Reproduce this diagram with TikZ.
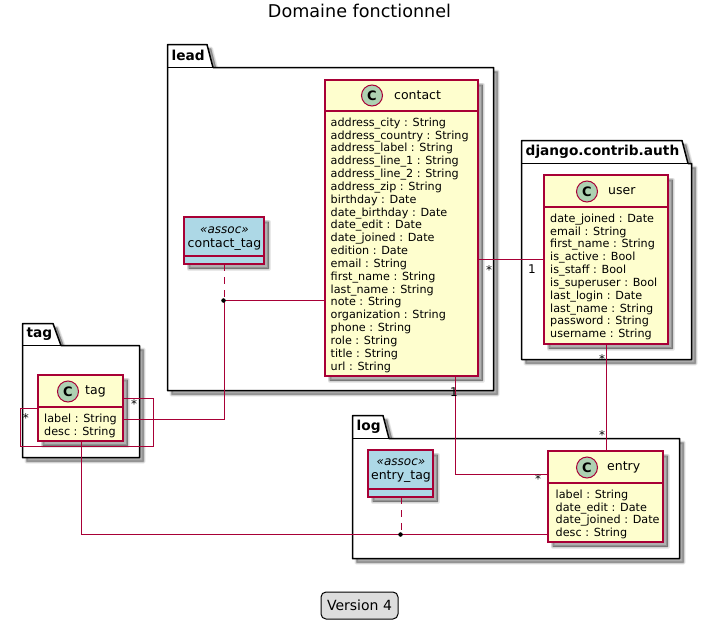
\documentclass[tikz,border=0pt]{standalone}
\usepackage{fontspec}
\setmainfont{DejaVu Sans}
\usetikzlibrary{calc}
\definecolor{umlred}{HTML}{A80036}
\definecolor{umlyellow}{HTML}{FEFECE}
\definecolor{umlblue}{HTML}{ADD8E6}
\definecolor{umlgreen}{HTML}{ADD1B2}
\definecolor{legendgray}{HTML}{DDDDDD}
\tikzset{
  softshade/.style={fill=black,draw=black,fill opacity=0.085,draw opacity=0.085,line join=round,shift={(4,4)}},
  pkgshape/.style={draw=black,line width=1.5pt,fill=white,line join=round},
  pkglabel/.style={font=\fontsize{13.7}{16}\selectfont\bfseries,anchor=west,inner sep=0pt,text=black},
  classbox/.style={draw=umlred,line width=1.4pt,fill=umlyellow,inner sep=0pt,outer sep=0pt,xshift=-0.5pt,yshift=0.5pt},
  assocbox/.style={classbox,fill=umlblue},
  headline/.style={draw=umlred,line width=1.4pt,yshift=0.5pt},
  classname/.style={font=\fontsize{12.5}{14}\selectfont,anchor=west,inner sep=0pt,text=black},
  attrs/.style={font=\fontsize{11.2}{12.84}\selectfont,anchor=north west,inner sep=0pt,align=left,text=black},
  spot/.style={circle,draw=umlred,line width=1pt,fill=umlgreen,minimum size=21pt,inner sep=0pt,font=\fontsize{13}{13}\selectfont\bfseries},
  conn/.style={draw=umlred,line width=1pt},
  assocdash/.style={conn,dash pattern=on 7pt off 6pt},
  jointdot/.style={circle,fill=black,draw=black,line width=0.3pt,minimum size=4pt,inner sep=0pt},
  mult/.style={font=\fontsize{12}{12}\selectfont,inner sep=0pt,text=black},
  stereo/.style={font=\fontsize{12}{14}\selectfont\itshape,inner sep=0pt,text=black},
  assocname/.style={font=\fontsize{12.5}{14}\selectfont,inner sep=0pt,text=black}
}
\newcommand{\softshadow}[1]{%
  \foreach \wd in {4,2.5,1,0.1}{\path[softshade,line width=\wd pt] #1;}%
}
\newcommand{\umlpackage}[9]{%
  \softshadow{(#3,#7) -- (#3,#4) -- (#5,#4) -- (#6,#7) -- (#8,#7) -- (#8,#9) -- (#3,#9) -- cycle}
  \path[pkgshape] (#3,#7) -- (#3,#4) -- (#5,#4) -- (#6,#7) -- (#8,#7) -- (#8,#9) -- (#3,#9) -- cycle;
  \draw[black,line width=1.5pt] (#3,#7) -- (#6,#7);
  \node[pkglabel] (#1-label) at ({#3+4},{(#4+#7)/2-0.5}) {#2};
}
\newcommand{\umlclass}[9]{%
  \softshadow{(#2,#3) rectangle (#4,#5)}
  \node[classbox,minimum width={(#4-(#2))*1pt},minimum height={(#5-(#3))*1pt}] (#1) at ({(#2+#4)/2},{(#3+#5)/2}) {};
  \path[headline] (#2-0.5,#6) -- (#4-0.5,#6);
  \node[spot] (#1-spot) at (#7,#9) {C};
  \node[classname] (#1-name) at (#8,#9) {#1};
}
\newcommand{\umlassoc}[8]{%
  \softshadow{(#3,#4) rectangle (#5,#6)}
  \node[assocbox,minimum width={(#5-#3)*1pt},minimum height={(#6-#4)*1pt}] (#1) at ({(#3+#5)/2},{(#4+#6)/2}) {};
  \path[headline] (#3-0.5,#7) -- (#5-0.5,#7);
  \node[stereo] (#1-stereo) at ({(#3+#5)/2},{#8-15}) {«assoc»};
  \node[assocname] (#1-name) at ({(#3+#5)/2},#8) {#2};
}
\begin{document}
\begin{tikzpicture}[x=1pt,y=-1pt]
\useasboundingbox (0,0) rectangle (712,629);
\fill[white] (0,0) rectangle (712,629);
\node[font=\fontsize{17.6}{20}\selectfont,inner sep=0pt] (title) at (359.5,11) {Domaine fonctionnel};

\umlpackage{pkglead}{lead}{167.5}{44.5}{207}{213}{67.5}{493.5}{390.5}
\umlpackage{pkgauth}{django.contrib.auth}{521.5}{140.5}{682}{688}{163.5}{691.5}{359.5}
\umlpackage{pkgtag}{tag}{22.5}{323.5}{53}{61}{345.5}{139.5}{457.5}
\umlpackage{pkglog}{log}{352.5}{415.5}{383}{389}{438.5}{679.5}{558.5}

\umlclass{contact}{325.5}{80.5}{478.5}{376.5}{111.5}{372}{394}{95.5}
\node[attrs] (contact-attrs) at (330.5,117.5) {address\_city : String\\address\_country : String\\address\_label : String\\address\_line\_1 : String\\address\_line\_2 : String\\address\_zip : String\\birthday : Date\\date\_birthday : Date\\date\_edit : Date\\date\_joined : Date\\edition : Date\\email : String\\first\_name : String\\last\_name : String\\note : String\\organization : String\\phone : String\\role : String\\title : String\\url : String};

\umlclass{user}{544.5}{175.5}{668.5}{344.5}{207.5}{587}{608}{191.5}
\node[attrs] (user-attrs) at (550,213.5) {date\_joined : Date\\email : String\\first\_name : String\\is\_active : Bool\\is\_staff : Bool\\is\_superuser : Bool\\last\_login : Date\\last\_name : String\\password : String\\username : String};

\umlclass{tag}{38.5}{375.5}{123.5}{441.5}{407.5}{68}{85}{391.5}
\node[attrs] (tag-attrs) at (44,413.5) {label : String\\desc : String};

\umlclass{entry}{548.5}{451.5}{663.5}{542.5}{483.5}{587}{607}{467.5}
\node[attrs] (entry-attrs) at (555.5,489.5) {label : String\\date\_edit : Date\\date\_joined : Date\\desc : String};

\umlassoc{contacttag}{contact\_tag}{184.5}{217.5}{264.5}{264.5}{256.5}{245}
\umlassoc{entrytag}{entry\_tag}{368.5}{450.5}{433.5}{497.5}{489.5}{477}

\coordinate (contactjoin) at (224.5,300.5);
\coordinate (entryjoin) at (401.5,534.5);

\draw[conn] (contact.east |- 0,259.5) -- (user.west |- 0,259.5);
\draw[conn] (user.south -| 606.5,0) -- (entry.north -| 606.5,0);
\draw[conn] (contact.south -| 455.5,0) -- (455.5,474.5) -- (entry.west |- 0,474.5);
\draw[conn] (tag.east |- 0,398.5) -- (153.5,398.5) -- (153.5,446.5) -- (20.5,446.5) -- (20.5,408.5) -- (tag.west |- 0,408.5);
\draw[conn] (tag.east |- 0,419.5) -- (contactjoin |- 0,419.5) -- (contactjoin);
\draw[conn] (contactjoin) -- (contact.west |- contactjoin);
\draw[assocdash] (contacttag.south -| contactjoin) -- (contactjoin);
\draw[conn] (tag.south -| 81.5,0) -- (81.5,534.5) -- (entryjoin) -- (entry.west |- entryjoin);
\draw[assocdash] (entrytag.south -| entryjoin) -- (entryjoin);
\node[jointdot,xshift=-1pt] (contactdot) at (contactjoin) {};
\node[jointdot,xshift=-1pt] (entrydot) at (entryjoin) {};

\node[mult] (m1) at (489,270) {*};
\node[mult] (m2) at (532,269) {1};
\node[mult] (m3) at (602,359) {*};
\node[mult] (m4) at (602,435) {*};
\node[mult] (m5) at (538,479) {*};
\node[mult] (m6) at (454,392) {1};
\node[mult] (m7) at (134,404) {*};
\node[mult] (m8) at (26,418) {*};

\node[draw=black,line width=1pt,fill=legendgray,rounded corners=5pt,minimum width=77pt,minimum height=27pt,inner sep=0pt,font=\fontsize{14}{16}\selectfont] (legend) at (359.5,605.5) {Version 4};
\end{tikzpicture}
\end{document}
